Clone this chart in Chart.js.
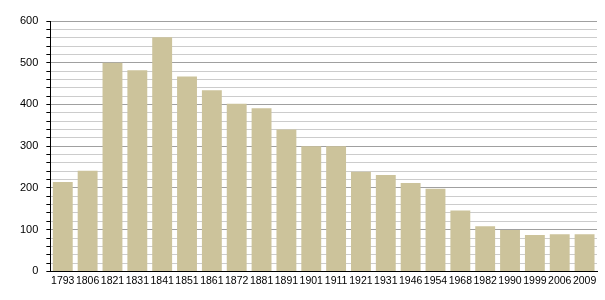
<!DOCTYPE html>
<html>
<head>
<meta charset="utf-8">
<script src="https://cdn.jsdelivr.net/npm/chart.js@4"></script>
<style>
  html, body { margin: 0; padding: 0; background: #fff; }
  #wrap { width: 605px; height: 300px; }
</style>
</head>
<body>
<div id="wrap"><canvas id="popChart" width="605" height="300"></canvas></div>
<script>
var years = ["1793", "1806", "1821", "1831", "1841", "1851", "1861", "1872", "1881", "1891", "1901",
  "1911", "1921", "1931", "1946", "1954", "1968", "1982", "1990", "1999", "2006", "2009"];
var population = [214, 241, 500, 482, 561, 467, 434, 402, 391, 340, 300,
  300, 239, 231, 212, 198, 146, 108, 99, 87, 89, 89];
var yMax = 600;
var yStep = 20;
var labelStep = 100;

Chart.defaults.font.family = "'Liberation Sans', Arial, sans-serif";
Chart.defaults.font.size = 11;
Chart.defaults.color = "#000";

var ctx = document.getElementById("popChart").getContext("2d");
new Chart(ctx, {
  type: "bar",
  data: {
    labels: years,
    datasets: [
      {
        label: "Population",
        data: population,
        backgroundColor: "#ccc39b",
        borderWidth: 0,
        barPercentage: 0.8,
        categoryPercentage: 1.0,
      },
    ],
  },
  options: {
    responsive: false,
    animation: false,
    layout: {
      padding: { left: 12, right: 8, top: 21, bottom: 10 },
    },
    plugins: {
      legend: { display: false },
      tooltip: { enabled: false },
    },
    scales: {
      x: {
        grid: { display: false, drawTicks: false },
        border: { display: true, color: "#000", width: 1 },
        ticks: { padding: 3, maxRotation: 0, autoSkip: false, font: { size: 10.5 } },
      },
      y: {
        min: 0,
        max: yMax,
        border: { display: true, color: "#000", width: 1 },
        grid: {
          color: function (c) {
            if (c.tick && c.tick.value % labelStep === 0) return "#a0a0a0";
            return "#cccccc";
          },
          tickColor: "#000",
          tickLength: 4,
        },
        ticks: {
          stepSize: yStep,
          padding: 8,
          autoSkip: false,
          callback: function (v) {
            return v % labelStep === 0 ? String(v) : "";
          },
        },
      },
    },
  },
});
</script>
</body>
</html>
